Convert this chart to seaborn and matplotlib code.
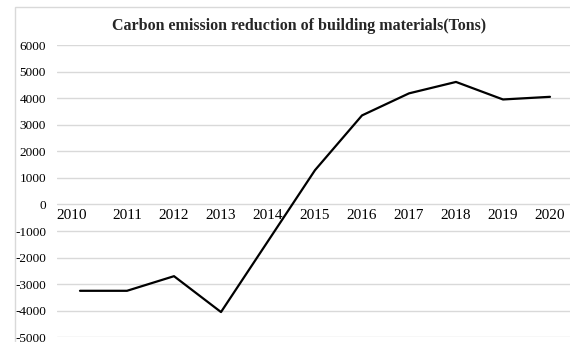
import matplotlib
matplotlib.use("Agg")
import matplotlib.pyplot as plt
from matplotlib.patches import Rectangle
from matplotlib.transforms import ScaledTranslation
import seaborn as sns
import pandas as pd

# Annual carbon emission reduction of building materials (tons)
years = [2010, 2011, 2012, 2013, 2014, 2015, 2016, 2017, 2018, 2019, 2020]
reduction = [-3250, -3250, -2700, -4050, -1380, 1290, 3350, 4180, 4610, 3950, 4050]
y_ticks = [-5000, -4000, -3000, -2000, -1000, 0, 1000, 2000, 3000, 4000, 5000, 6000]
title = "Carbon emission reduction of building materials(Tons)"

df = pd.DataFrame({"year": years, "reduction": reduction})

sns.set_theme(style="white")
plt.rcParams["font.family"] = ["Liberation Serif", "DejaVu Serif"]

W, H = 570, 342
fig = plt.figure(figsize=(W / 100, H / 100), dpi=100)

# outer chart frame (light gray)
fig.patches.append(Rectangle((15 / W, -0.1), 1.2, (H - 7) / H + 0.1,
                             transform=fig.transFigure, fill=False,
                             edgecolor="#d9d9d9", linewidth=1.0))

ax = fig.add_axes([56.5 / W, 4.7 / H, 517 / W, 292.3 / H])

sns.lineplot(data=df, x="year", y="reduction", color="black",
             linewidth=1.6, ax=ax)

ax.set_xlim(years[0] - 0.5, years[-1] + 0.5)
ax.set_ylim(y_ticks[0], y_ticks[-1])
ax.set_yticks(y_ticks)
ax.set_yticklabels([str(v) for v in y_ticks], fontsize=9.5)
ax.set_xticks(years)
ax.set_xticklabels([str(y) for y in years], fontsize=9.5)

ax.yaxis.grid(True, color="#d9d9d9", linewidth=1.0)
ax.set_axisbelow(True)
for side in ["left", "right", "top"]:
    ax.spines[side].set_visible(False)
ax.spines["bottom"].set_position(("data", 0))
ax.spines["bottom"].set_visible(False)
ax.tick_params(axis="both", length=0, colors="black")
ax.tick_params(axis="y", pad=7.5)
ax.tick_params(axis="x", pad=3)
ax.set_xlabel("")
ax.set_ylabel("")

# first category label sits slightly left of its point
first = ax.get_xticklabels()[0]
first.set_transform(first.get_transform() + ScaledTranslation(-8 / 100, 0, fig.dpi_scale_trans))

fig.text(299 / W, 1 - 26 / H, title, ha="center", va="center",
         fontsize=11.5, fontweight="bold")

fig.savefig("out.png", dpi=100)
